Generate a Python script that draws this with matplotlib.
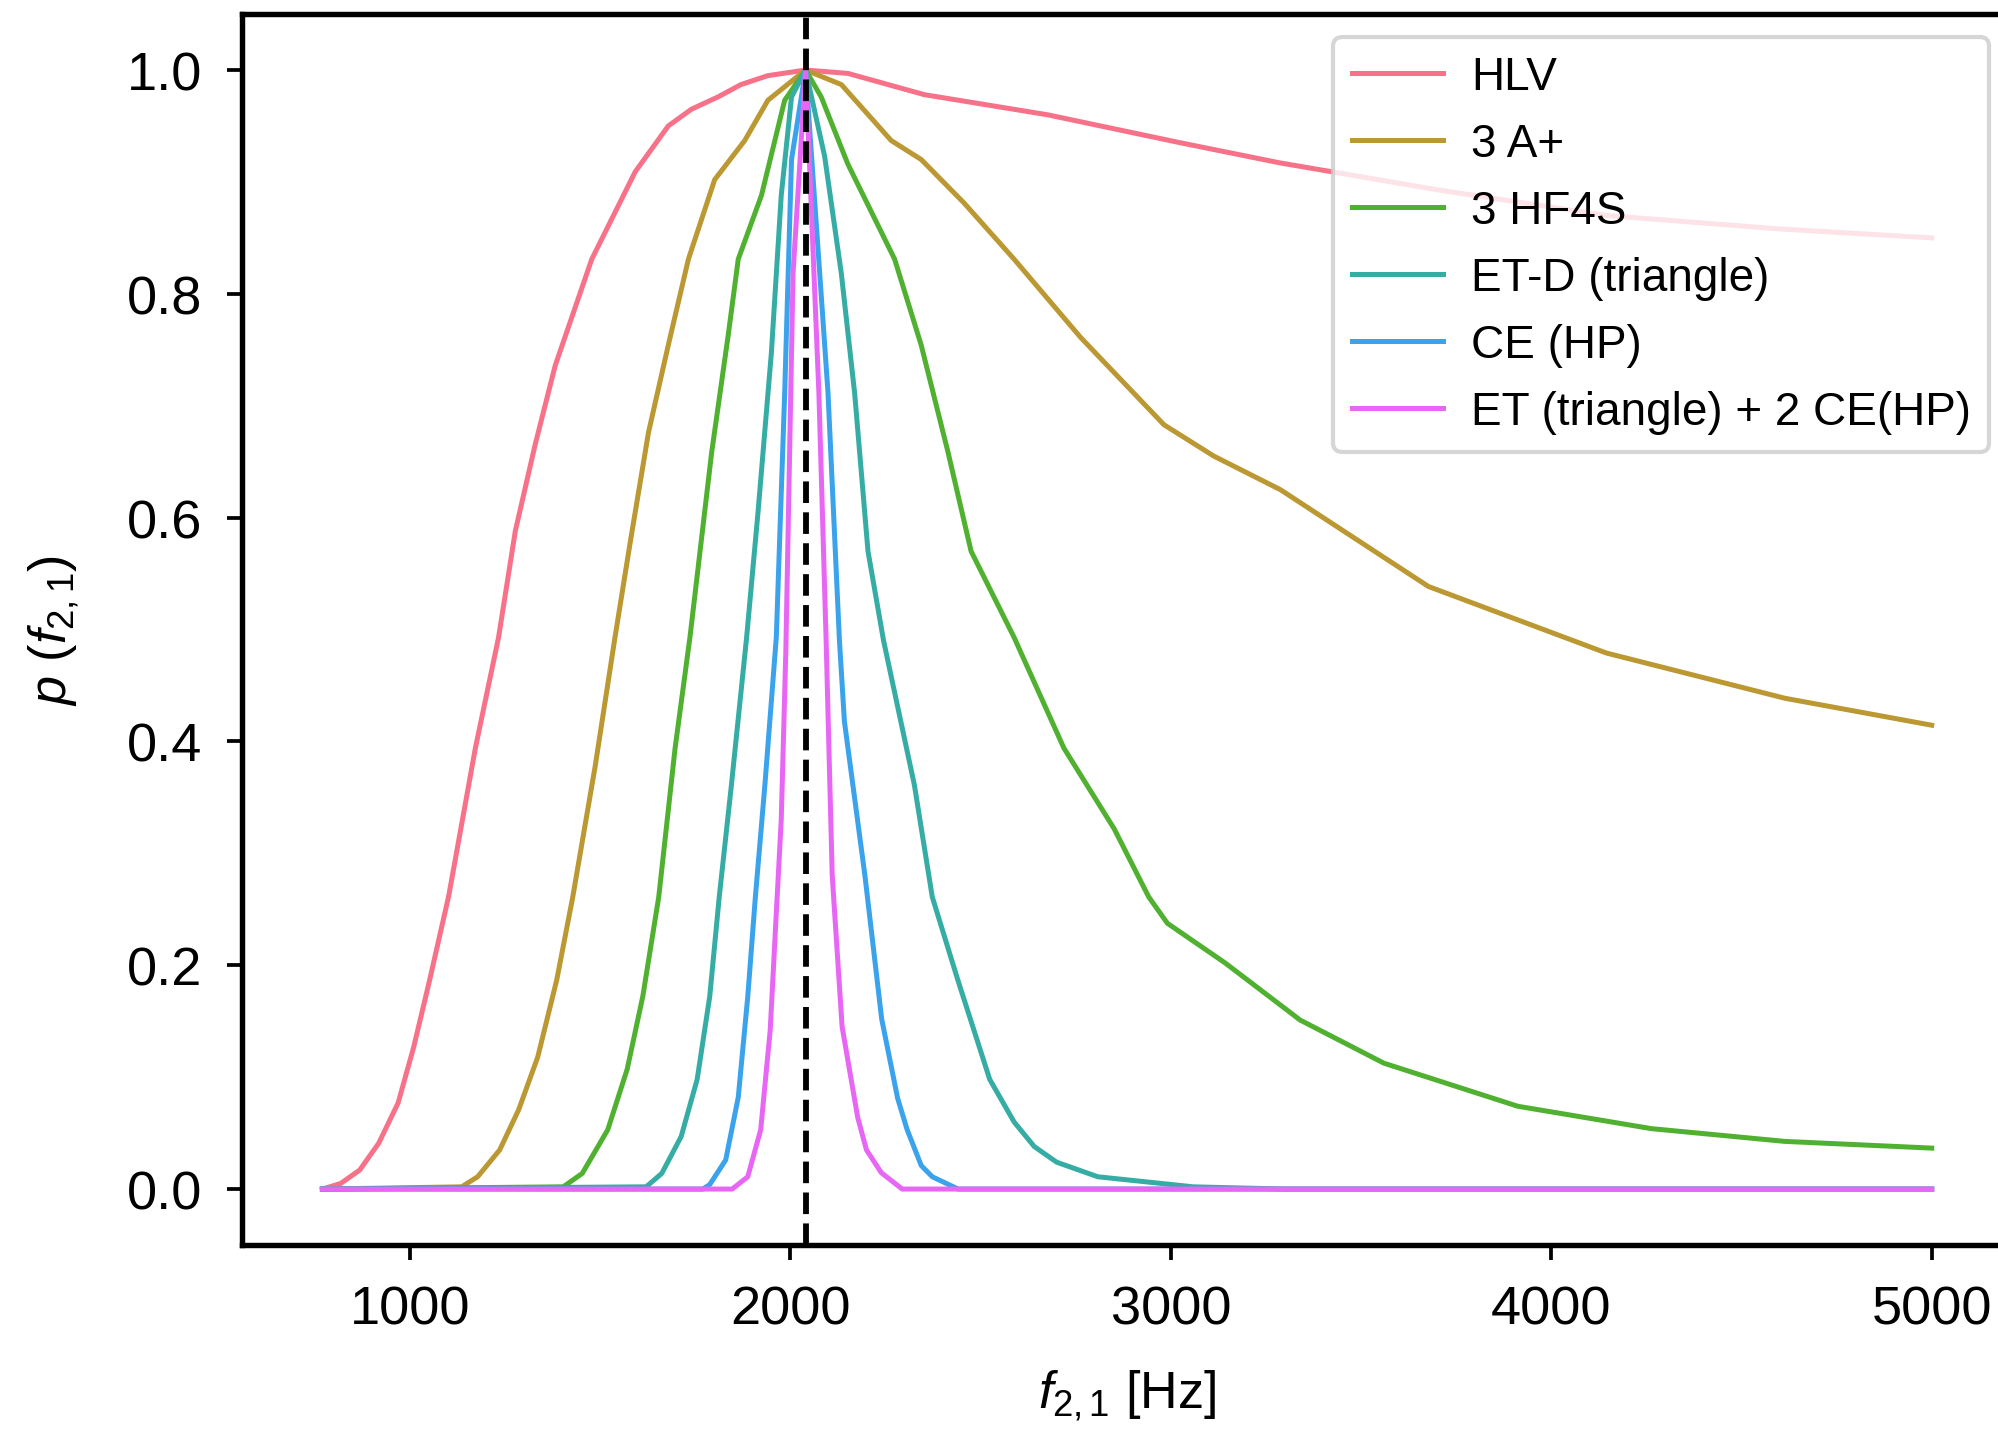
import matplotlib
matplotlib.use("Agg")
import matplotlib.pyplot as plt

plt.rcParams['font.family'] = ['Liberation Sans', 'DejaVu Sans']
plt.rcParams['mathtext.fontset'] = 'custom'
plt.rcParams['mathtext.rm'] = 'Liberation Sans'
plt.rcParams['mathtext.it'] = 'Liberation Sans:italic'
plt.rcParams['font.size'] = 12

# frequency of the injected signal
f_peak = 2040

# normalised posterior p(f_21) for each detector network
hlv_f = [770, 818, 868, 918, 969, 1010, 1052, 1102, 1172, 1233, 1277, 1329, 1382, 1478,
         1592, 1679, 1740, 1810, 1870, 1941, 2040, 2151, 2352, 2676, 3025, 3287, 3700,
         4145, 4600, 5000]
hlv_p = [0.0, 0.005, 0.017, 0.041, 0.077, 0.127, 0.187, 0.262, 0.394, 0.493, 0.588,
         0.665, 0.736, 0.831, 0.909, 0.950, 0.965, 0.976, 0.987, 0.995, 1.0, 0.997,
         0.978, 0.960, 0.935, 0.917, 0.893, 0.870, 0.858, 0.850]

aplus_f = [770, 1136, 1178, 1236, 1286, 1336, 1386, 1428, 1487, 1539, 1580, 1627, 1679,
           1732, 1801, 1880, 1941, 2040, 2134, 2265, 2344, 2457, 2588, 2763, 2982, 3113,
           3288, 3677, 4145, 4614, 5000]
aplus_p = [0.0, 0.002, 0.011, 0.035, 0.071, 0.118, 0.187, 0.261, 0.378, 0.493, 0.58,
           0.676, 0.754, 0.831, 0.902, 0.937, 0.973, 1.0, 0.987, 0.937, 0.920, 0.881,
           0.831, 0.761, 0.683, 0.655, 0.625, 0.5385, 0.479, 0.4386, 0.4145]

hf4s_f = [770, 1403, 1453, 1520, 1571, 1612, 1654, 1697, 1736, 1793, 1837, 1863, 1924,
          1985, 2040, 2081, 2151, 2274, 2344, 2414, 2475, 2588, 2719, 2851, 2942, 2991,
          3143, 3340, 3560, 3912, 4263, 4614, 5000]
hf4s_p = [0.0, 0.002, 0.014, 0.053, 0.107, 0.172, 0.261, 0.394, 0.493, 0.658, 0.764,
          0.831, 0.888, 0.973, 1.0, 0.976, 0.916, 0.831, 0.754, 0.659, 0.570, 0.493,
          0.394, 0.322, 0.261, 0.2375, 0.202, 0.151, 0.1125, 0.074, 0.054, 0.0426,
          0.0366]

etd_f = [770, 1621, 1662, 1713, 1755, 1788, 1813, 1845, 1885, 1915, 1950, 1976, 2003,
         2040, 2090, 2134, 2169, 2204, 2245, 2326, 2373, 2440, 2524, 2588, 2641, 2700,
         2808, 3059, 3300, 5000]
etd_p = [0.0, 0.002, 0.014, 0.047, 0.098, 0.172, 0.261, 0.361, 0.493, 0.605, 0.747,
         0.888, 0.976, 1.0, 0.923, 0.818, 0.711, 0.570, 0.49, 0.361, 0.261, 0.187,
         0.098, 0.06, 0.038, 0.024, 0.011, 0.002, 0.0, 0.0]

ce_f = [770, 1770, 1788, 1830, 1863, 1888, 1908, 1933, 1963, 1985, 2003, 2040, 2099,
        2129, 2142, 2196, 2240, 2282, 2307, 2344, 2373, 2441, 5000]
ce_p = [0.0, 0.0, 0.004, 0.026, 0.082, 0.172, 0.261, 0.361, 0.493, 0.711, 0.92, 1.0,
        0.711, 0.49, 0.418, 0.28, 0.152, 0.081, 0.053, 0.021, 0.011, 0.0, 0.0]

etce_f = [770, 1847, 1888, 1922, 1947, 1962, 1976, 1988, 2007, 2040, 2075, 2094, 2110,
          2136, 2177, 2200, 2239, 2294, 5000]
etce_p = [0.0, 0.0, 0.011, 0.053, 0.142, 0.24, 0.33, 0.48, 0.818, 1.0, 0.711, 0.49,
          0.28, 0.145, 0.064, 0.035, 0.0146, 0.0, 0.0]

labels = ['HLV', '3 A+', '3 HF4S', 'ET-D (triangle)', 'CE (HP)', 'ET (triangle) + 2 CE(HP)']
# husl palette, 6 colours
colors = ['#f77189', '#bb9832', '#50b131', '#36ada4', '#3ba3ec', '#e866f4']

curves = [(hlv_f, hlv_p), (aplus_f, aplus_p), (hf4s_f, hf4s_p),
          (etd_f, etd_p), (ce_f, ce_p), (etce_f, etce_p)]

fig = plt.figure(figsize=(6.66, 4.7833), dpi=300)
ax = fig.add_axes([0.1211, 0.1317, 0.886, 0.8578])

for (f, p), lab, c in zip(curves, labels, colors):
    ax.plot(f, p, color=c, lw=1.2, label=lab)

ax.axvline(f_peak, color='k', ls='--', lw=1.4)

ax.set_xticks([1000, 2000, 3000, 4000, 5000])
ax.set_yticks([0.0, 0.2, 0.4, 0.6, 0.8, 1.0])
ax.set_xlabel(r'$f_{2,1}$ [Hz]', fontsize=12.5, labelpad=8)
ax.set_ylabel(r'$p\ (f_{2,1})$', fontsize=12.5, labelpad=11)

for s in ax.spines.values():
    s.set_linewidth(1.3)
ax.tick_params(width=0.9, length=3.5, pad=6, labelsize=13)

ax.legend(loc='upper right', fontsize=11, handletextpad=0.6)

fig.savefig('out.png', dpi=300)
